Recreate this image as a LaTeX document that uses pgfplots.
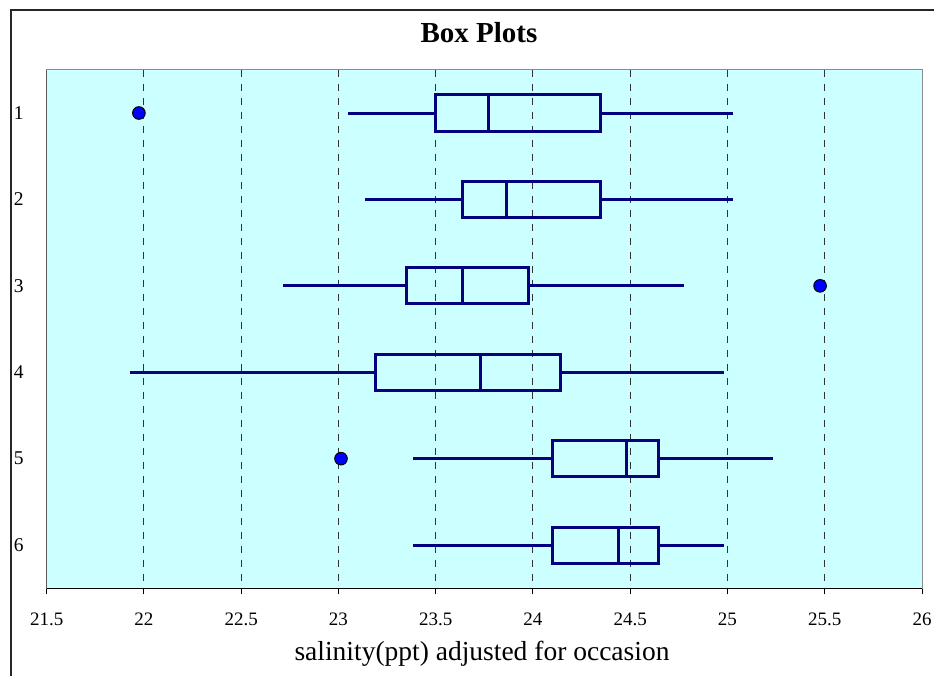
\documentclass[border=0pt]{standalone}
\usepackage{pgfplots}
\pgfplotsset{compat=1.18}
\usepgfplotslibrary{statistics}
\usepackage{fontspec}
\setmainfont{Liberation Serif}
\definecolor{bgc}{RGB}{204,255,255}
\definecolor{navy}{RGB}{0,0,128}
\definecolor{outl}{RGB}{0,0,255}
\begin{document}
\begin{tikzpicture}[x=1pt,y=1pt]
\useasboundingbox (0,0) rectangle (934,675);
\draw[line width=2pt, color=black!85] (11,-10) -- (11,665) -- (950,665);
\node[anchor=base, font=\fontsize{29}{29}\selectfont\bfseries, inner sep=0pt] at (479,632.7) {Box Plots};
\node[anchor=base, font=\fontsize{27.5}{27.5}\selectfont, inner sep=0pt] at (482,14.3) {salinity(ppt) adjusted for occasion};
\begin{axis}[
  at={(46.7pt,86.7pt)}, anchor=south west,
  scale only axis, width=875.3pt, height=518.5pt,
  xmin=21.5, xmax=26, ymin=0.5, ymax=6.5,
  y dir=reverse,
  xtick={21.5,22,...,26},
  xticklabels={21.5,22,22.5,23,23.5,24,24.5,25,25.5,26},
  ytick={1,2,3,4,5,6},
  yticklabels={1,2,3,4,5,6},
  extra x ticks={22,22.5,23,23.5,24,24.5,25,25.5},
  extra x tick labels={},
  extra x tick style={grid=major, major tick length=0pt},
  grid style={black!80, line width=1pt, dash pattern=on 7pt off 7pt},
  tick align=outside, major tick length=6pt,
  xtick pos=left,
  xtick style={black, line width=1pt},
  ytick style={draw=none},
  axis line style={draw=black!45, line width=1pt},
  axis background/.style={fill=bgc},
  /pgf/number format/assume math mode=true,
  xticklabel style={font=\fontsize{19}{19}\selectfont, anchor=north, inner sep=0pt, yshift=-18.4pt},
  yticklabel style={font=\fontsize{19.5}{19.5}\selectfont, anchor=west, inner sep=0pt, xshift=-27pt},
  boxplot/box extend=0.417,
  boxplot/whisker extend=0,
]
\addplot[navy, line width=3pt, boxplot prepared={draw position=1, lower whisker=23.047, lower quartile=23.498, median=23.771, upper quartile=24.347, upper whisker=25.03}] coordinates {};
\addplot[navy, line width=3pt, boxplot prepared={draw position=2, lower whisker=23.136, lower quartile=23.64, median=23.866, upper quartile=24.347, upper whisker=25.03}] coordinates {};
\addplot[navy, line width=3pt, boxplot prepared={draw position=3, lower whisker=22.716, lower quartile=23.348, median=23.64, upper quartile=23.979, upper whisker=24.776}] coordinates {};
\addplot[navy, line width=3pt, boxplot prepared={draw position=4, lower whisker=21.926, lower quartile=23.188, median=23.729, upper quartile=24.141, upper whisker=24.981}] coordinates {};
\addplot[navy, line width=3pt, boxplot prepared={draw position=5, lower whisker=23.385, lower quartile=24.098, median=24.48, upper quartile=24.647, upper whisker=25.236}] coordinates {};
\addplot[navy, line width=3pt, boxplot prepared={draw position=6, lower whisker=23.385, lower quartile=24.098, median=24.438, upper quartile=24.647, upper whisker=24.981}] coordinates {};
\addplot[only marks, mark=*, mark size=6.3pt, mark options={fill=outl, draw=black, line width=1pt}] coordinates {(21.974,1) (25.476,3) (23.013,5)};
\draw[black, line width=1.5pt] (axis description cs:0,1) -- (axis description cs:0,0) -- (axis description cs:1,0);
\end{axis}
\end{tikzpicture}
\end{document}
